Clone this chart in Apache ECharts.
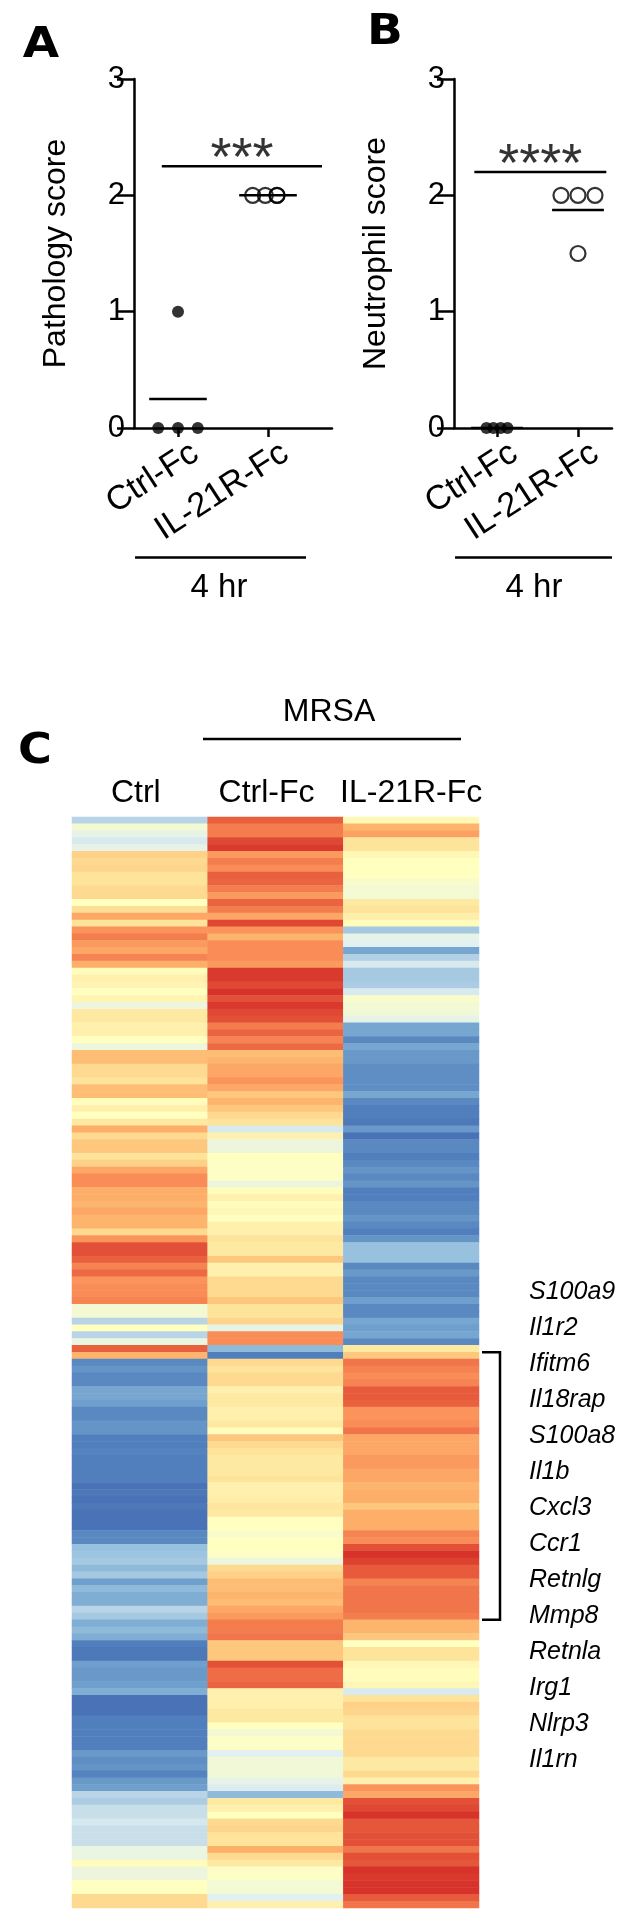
<!DOCTYPE html>
<html>
<head>
<meta charset="utf-8">
<script src="https://cdn.jsdelivr.net/npm/echarts@6/dist/echarts.min.js"></script>
<style>
html,body{margin:0;padding:0;background:#fff;}
#chart{width:637px;height:1928px;}
</style>
</head>
<body>
<div id="chart"></div>
<script>
// ---------------- DATA ----------------
const groups = ['Ctrl-Fc', 'IL-21R-Fc'];
const pathologyCtrlFc = [1, 0, 0, 0];
const pathologyIL21RFc = [2, 2, 2, 2];
const neutrophilCtrlFc = [0, 0, 0, 0];
const neutrophilIL21RFc = [2, 2, 2, 1.5];
const sigPathology = '***';
const sigNeutrophil = '****';
const timeLabel = '4 hr';

const heatColumns = ['Ctrl', 'Ctrl-Fc', 'IL-21R-Fc'];
const heatCtrl = [
 -1.0,-0.2,-0.4,-0.6,-0.4,0.7,0.6,0.65,0.5,0.5,0.6,0.6,0,0.55,1.2,0.5,1.5,1.8,1.4,1.2,
 1.7,1.1,0.05,0.25,0.2,0,0.2,-0.3,0.4,0.4,0.25,0.25,0,-0.3,0.9,0.9,0.6,0.6,0.5,0.9,
 0.9,0.05,0.25,0,0.4,1.1,0.6,0.8,0.8,0.5,0.7,1.2,1.6,1.6,1.1,1.1,1.0,1.2,1.0,1.0,
 0.6,1.5,2.6,2.6,2.3,1.7,2.1,1.5,1.6,1.6,1.7,-0.2,-0.2,-1.0,0,-1.0,-0.35,2.3,1.0,-2.4,
 -2.2,-2.4,-2.4,-1.9,-1.9,-2.0,-2.4,-2.4,-2.2,-2.2,-2.6,-2.6,-2.5,-2.6,-2.6,-2.6,-2.6,-2.8,-2.7,-2.8,
 -2.7,-2.8,-2.8,-2.8,-2.4,-2.4,-1.5,-1.4,-1.3,-1.6,-1.3,-2.0,-1.6,-1.8,-1.8,-1.0,-1.3,-1.8,-1.6,-1.8,
 -2.6,-2.7,-2.7,-2.0,-2.1,-2.1,-2.0,-1.8,-2.8,-2.8,-2.8,-2.6,-2.6,-2.6,-2.6,-2.6,-2.1,-2.3,-2.2,-2.5,
 -2.1,-2.0,-1.0,-1.2,-0.8,-0.8,-0.65,-0.8,-0.8,-0.8,-0.35,-0.35,0.05,-0.3,-0.3,0,0,0.6,0.6
];
const heatCtrlFc = [
 2.3,1.8,1.8,2.7,2.9,1.4,1.8,1.6,2.3,2.2,1.8,1.4,2.2,1.8,1.2,2.7,1.5,1.0,1.6,1.6,
 1.6,1.4,2.9,2.9,2.7,3.0,2.6,2.9,2.7,2.6,1.8,2.2,1.7,2.1,0.9,1.0,1.2,1.2,1.5,1.2,
 0.8,1.0,0.8,0.6,0.5,-0.6,0.25,-0.3,-0.3,0,-0.05,-0.05,-0.05,-0.3,0.05,0.25,0.05,0.15,0,0.25,
 0.25,0.5,0.4,0.4,0.8,0.25,0.25,0.6,0.6,0.6,0.8,0.5,0.5,0.65,-0.4,1.6,1.6,-1.6,-2.6,0.6,
 0.5,0.6,0.6,0.25,0.4,0.4,0.25,0.25,0.4,0.05,0.8,0.6,0.5,0.4,0.4,0.4,0.5,0.25,0.25,0.3,
 0.45,0.4,0,0,-0.1,0,0,-0.05,-0.3,0.6,0.7,0.9,0.9,1.0,0.9,1.2,1.4,1.8,1.8,1.9,
 0.8,0.8,0.8,2.6,2.0,2.0,2.2,0.25,0.25,0.25,0.4,0.4,0,-0.2,-0.05,-0.05,-0.5,-0.25,-0.25,-0.25,
 -0.4,-0.55,-1.6,0.4,0.25,0,0.6,0.65,0.5,0.5,1.1,0.6,0.4,-0.05,-0.05,-0.2,-0.2,-0.5,0.25
];
const heatIL21RFc = [
 0.1,1.0,1.3,0.5,0.5,0.15,0,0,0,-0.1,-0.2,-0.2,0.4,0.5,0.3,0.05,-1.3,-0.4,-0.5,-1.9,
 -1.1,-0.6,-1.3,-1.3,-1.2,-0.6,-0.1,-0.2,-0.25,-0.4,-1.9,-1.9,-2.4,-1.9,-2.1,-2.1,-2.3,-2.3,-2.3,-2.3,
 -1.9,-2.4,-2.6,-2.6,-2.7,-2.1,-2.8,-2.4,-2.4,-2.6,-2.4,-2.2,-2.4,-2.2,-2.6,-2.6,-2.4,-2.4,-2.2,-2.4,
 -2.6,-2.2,-1.5,-1.5,-1.5,-2.4,-2.1,-2.4,-2.4,-2.4,-2.0,-2.4,-2.4,-1.9,-2.0,-1.9,-2.4,0.4,0.8,1.9,
 1.75,1.6,1.7,2.4,2.4,2.3,1.5,1.5,1.6,1.9,1.2,1.2,1.2,1.4,1.4,1.2,1.2,1.0,1.1,1.1,
 0.8,1.1,1.1,1.1,1.7,1.6,2.6,3.0,2.8,2.4,2.4,1.7,1.9,1.9,1.9,1.9,1.8,1.0,1.0,0.8,
 0,0.5,0.5,0.15,0.05,0.05,0.15,-0.6,0.5,0.7,0.65,0.5,0.5,0.6,0.6,0.6,0.6,0.4,0.4,0.6,
 0.25,1.5,1.2,2.6,2.7,3.0,2.5,2.5,2.6,2.6,1.9,2.6,2.5,3.0,2.9,3.0,3.0,2.4,1.9
];
const genes = ['S100a9','Il1r2','Ifitm6','Il18rap','S100a8','Il1b','Cxcl3','Ccr1','Retnlg','Mmp8','Retnla','Irg1','Nlrp3','Il1rn'];
const bracketRows = [78, 117];

// ---------------- LAYOUT / STYLE ----------------
const FONT = 'Liberation Sans, Arial, Helvetica, sans-serif';
const BOLDFONT = 'DejaVu Sans, Liberation Sans, Arial, sans-serif';
const LW = 2.5;
const jitA0 = [0, -0.22, 0, 0.22];
const jitA1 = [-0.17, -0.03, 0.1, 0.1];
const jitB0 = [-0.13, -0.045, 0.045, 0.13];
const jitB1 = [-0.21, 0, 0.21, 0];
const meanHalf = 0.32;
const sigA = {from: -0.18, to: 1.6, y: 2.25};
const sigB = {from: -0.28, to: 1.35, y: 2.2};
const heat = {left: 72, top: 817, width: 407, height: 1091};

const mean = a => a.reduce((s, v) => s + v, 0) / a.length;

function valueX(min, max, labelShift) {
  return {
    type: 'value', min: min, max: max,
    axisLine: {show: true, onZero: false, lineStyle: {color: '#000', width: LW}},
    axisTick: {show: true, customValues: [0, 1], length: 9, lineStyle: {color: '#000', width: LW}},
    axisLabel: {show: true, customValues: [0 + labelShift, 1 + labelShift],
      formatter: v => groups[Math.round(v)],
      rotate: 33, align: 'right', verticalAlign: 'top', margin: 8,
      fontSize: 34, color: '#000', fontFamily: FONT},
    splitLine: {show: false}
  };
}
function valueY(name, gridIndex) {
  return {
    gridIndex: gridIndex, type: 'value', min: 0, max: 3, interval: 1,
    name: name, nameLocation: 'middle', nameGap: 62, nameRotate: 90,
    nameTextStyle: {fontSize: 32, color: '#000', fontFamily: FONT},
    axisLine: {show: true, onZero: false, lineStyle: {color: '#000', width: LW}},
    axisTick: {show: true, length: 17, lineStyle: {color: '#000', width: LW}},
    axisLabel: {fontSize: 31, color: '#000', margin: 9, fontFamily: FONT},
    splitLine: {show: false}
  };
}
function dots(values, center, jit, xi, open) {
  return {
    type: 'scatter', xAxisIndex: xi, yAxisIndex: xi,
    data: values.map((v, i) => [center + jit[i], v]),
    symbolSize: open ? 15 : 12,
    itemStyle: open ? {color: 'rgba(255,255,255,0)', borderColor: '#000', borderWidth: 2.2}
                    : {color: '#000'},
    z: 3
  };
}
function seg(x0, x1, y, xi) {
  return {
    type: 'line', xAxisIndex: xi, yAxisIndex: xi,
    data: [[x0, y], [x1, y]], symbol: 'none', silent: true,
    lineStyle: {color: '#000', width: LW}, z: 4
  };
}
function stars(text, bar, xi) {
  return {
    type: 'scatter', xAxisIndex: xi, yAxisIndex: xi,
    data: [[(bar.from + bar.to) / 2, bar.y]], symbolSize: 0, silent: true,
    label: {show: true, formatter: text, position: 'top', distance: -21,
      fontSize: 54, color: '#000', fontFamily: FONT}
  };
}

const heatData = [];
[heatCtrl, heatCtrlFc, heatIL21RFc].forEach((col, c) => {
  col.forEach((v, r) => heatData.push([c, r, v]));
});
const rowIdx = heatCtrl.map((_, i) => String(i));
const headerPad = {'Ctrl': 8, 'Ctrl-Fc': 18, 'IL-21R-Fc': 0};

const chart = echarts.init(document.getElementById('chart'), null, {renderer: 'canvas'});
const option = {
  backgroundColor: '#fff',
  animation: false,
  textStyle: {fontFamily: FONT},
  grid: [
    {left: 134, top: 79, width: 198, height: 349},
    {left: 454, top: 79, width: 158, height: 349},
    {left: heat.left, top: heat.top, width: heat.width, height: heat.height},
    {left: 519, top: 1274, width: 1, height: 504}
  ],
  xAxis: [
    Object.assign({gridIndex: 0}, valueX(-0.4889, 1.7111, 0.09)),
    Object.assign({gridIndex: 1}, valueX(-0.531, 1.420, 0.1)),
    {gridIndex: 2, type: 'category', data: heatColumns, position: 'top',
      axisLine: {show: false}, axisTick: {show: false}, splitLine: {show: false},
      axisLabel: {interval: 0, margin: 8,
        formatter: v => '{p' + headerPad[v] + '|' + v + '}',
        rich: {
          p0: {fontSize: 32, color: '#000', fontFamily: FONT},
          p8: {fontSize: 32, color: '#000', fontFamily: FONT, padding: [0, 8, 0, 0]},
          p18: {fontSize: 32, color: '#000', fontFamily: FONT, padding: [0, 18, 0, 0]}
        }}},
    {gridIndex: 3, type: 'value', show: false}
  ],
  yAxis: [
    valueY('Pathology score', 0),
    valueY('Neutrophil score', 1),
    {gridIndex: 2, type: 'category', data: rowIdx, inverse: true, show: false},
    {gridIndex: 3, type: 'category', data: genes, inverse: true, position: 'right',
      axisLine: {show: false}, axisTick: {show: false}, splitLine: {show: false},
      axisLabel: {interval: 0, fontSize: 25, fontStyle: 'italic', color: '#000', margin: 9,
        align: 'left', fontFamily: FONT}}
  ],
  visualMap: {
    show: false, seriesIndex: 12, min: -3, max: 3, dimension: 2,
    inRange: {color: ['#4169b0','#5583bf','#6f9fcc','#97c1de','#b8d4e6','#e1f0f0','#ffffc0',
                      '#fee39a','#fdb46c','#fb945b','#ef6d46','#e5573a','#d7332a']}
  },
  series: [
    dots(pathologyCtrlFc, 0, jitA0, 0, false),
    dots(pathologyIL21RFc, 1, jitA1, 0, true),
    seg(0 - meanHalf, 0 + meanHalf, mean(pathologyCtrlFc), 0),
    seg(1 - meanHalf, 1 + meanHalf, mean(pathologyIL21RFc), 0),
    seg(sigA.from, sigA.to, sigA.y, 0),
    stars(sigPathology, sigA, 0),
    dots(neutrophilCtrlFc, 0, jitB0, 1, false),
    dots(neutrophilIL21RFc, 1, jitB1, 1, true),
    seg(0 - meanHalf, 0 + meanHalf, mean(neutrophilCtrlFc), 1),
    seg(1 - meanHalf, 1 + meanHalf, mean(neutrophilIL21RFc), 1),
    seg(sigB.from, sigB.to, sigB.y, 1),
    stars(sigNeutrophil, sigB, 1),
    {type: 'heatmap', xAxisIndex: 2, yAxisIndex: 2, data: heatData,
      itemStyle: {borderWidth: 0}, emphasis: {disabled: true}}
  ]
};
chart.setOption(option);

const rowH = heat.height / heatCtrl.length;
const bTop = heat.top + bracketRows[0] * rowH;
const bBot = heat.top + bracketRows[1] * rowH;
const txt = (t, x, y, size, extra, sx) => ({
  type: 'text', x: x, y: y, scaleX: sx || 1,
  style: Object.assign({text: t, fontSize: size, fill: '#000', fontFamily: FONT,
    textAlign: 'center', textVerticalAlign: 'middle'}, extra || {})
});
const ln = (x1, y1, x2, y2) => ({type: 'line', shape: {x1, y1, x2, y2},
  style: {stroke: '#000', lineWidth: LW}});
chart.setOption({
  graphic: [
    txt('A', 41, 46, 42, {fontWeight: 'bold', fontFamily: BOLDFONT}, 1.12),
    txt('B', 385, 33, 42, {fontWeight: 'bold', fontFamily: BOLDFONT}, 1.12),
    txt('C', 35, 752, 42, {fontWeight: 'bold', fontFamily: BOLDFONT}, 1.1),
    ln(135, 557.5, 306, 557.5),
    txt(timeLabel, 219, 588, 33),
    ln(455, 557.5, 612, 557.5),
    txt(timeLabel, 534, 588, 33),
    txt('MRSA', 329, 712, 32),
    ln(203, 739, 461, 739),
    {type: 'polyline', shape: {points: [[482, bTop], [500, bTop], [500, bBot], [482, bBot]]},
      style: {stroke: '#000', lineWidth: LW, fill: null}}
  ]
});
</script>
</body>
</html>
